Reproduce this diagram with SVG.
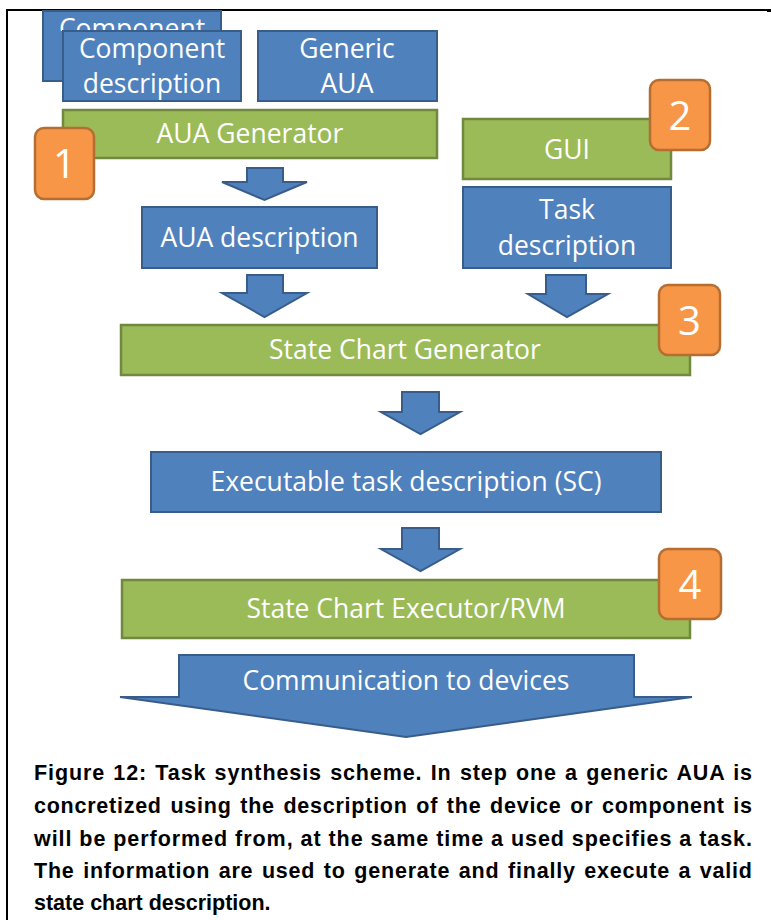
<svg xmlns="http://www.w3.org/2000/svg" width="771" height="920" viewBox="0 0 771 920">
  <style>
    .blue { fill: #4F81BD; stroke: #385D8A; stroke-width: 2; }
    .green { fill: #9BBB59; stroke: #71893F; stroke-width: 2.5; }
    .badge { fill: #F79646; stroke: #B66D31; stroke-width: 2.5; }
    .lbl { font-family: "Open Sans", "Liberation Sans", Arial, sans-serif; font-size: 26.5px; fill: #FFFFFF; text-anchor: middle; }
    .num { font-family: "Open Sans", "Liberation Sans", Arial, sans-serif; font-size: 40px; fill: #FFFFFF; text-anchor: middle; }
    .cap { font-family: "Liberation Sans", Arial, sans-serif; font-size: 21.5px; font-weight: bold; fill: #000000; }
    .frame { fill: none; stroke: #000000; stroke-width: 2; }
  </style>
  <defs>
    <!-- only the strip of the rear card above the front card is visible -->
    <clipPath id="rear-visible">
      <rect x="43" y="11" width="178" height="20"/>
    </clipPath>
  </defs>

  <!-- page frame -->
  <polyline class="frame" points="7,920 7,10 768,10"/>
  <rect x="767" y="9" width="4" height="3" fill="#000000"/>

  <!-- inputs -->
  <g id="component-back">
    <rect class="blue" x="43" y="11" width="178" height="70"/>
    <text class="lbl" x="132" y="38" clip-path="url(#rear-visible)">Component</text>
  </g>
  <g id="component-description">
    <rect class="blue" x="63" y="31" width="178" height="70"/>
    <text class="lbl" x="152" y="58">Component</text>
    <text class="lbl" x="152" y="93">description</text>
  </g>
  <g id="generic-aua">
    <rect class="blue" x="258" y="31" width="179" height="70"/>
    <text class="lbl" x="347" y="58">Generic</text>
    <text class="lbl" x="347" y="93">AUA</text>
  </g>

  <!-- step 1 -->
  <g id="aua-generator">
    <rect class="green" x="63" y="110" width="374" height="48"/>
    <text class="lbl" x="250" y="143">AUA Generator</text>
  </g>
  <g id="badge-1">
    <rect class="badge" x="35" y="128" width="59" height="71" rx="9"/>
    <text class="num" x="64.5" y="178">1</text>
  </g>

  <g id="aua-description">
    <rect class="blue" x="142" y="207" width="235" height="61"/>
    <text class="lbl" x="259.5" y="247">AUA description</text>
  </g>

  <!-- step 2 -->
  <g id="gui">
    <rect class="green" x="463" y="119" width="208" height="60"/>
    <text class="lbl" x="567" y="159">GUI</text>
  </g>
  <g id="badge-2">
    <rect class="badge" x="650" y="80" width="60" height="70" rx="9"/>
    <text class="num" x="680" y="130">2</text>
  </g>
  <g id="task-description">
    <rect class="blue" x="463" y="187" width="208" height="81"/>
    <text class="lbl" x="567" y="219">Task</text>
    <text class="lbl" x="567" y="255">description</text>
  </g>

  <!-- step 3 -->
  <g id="state-chart-generator">
    <rect class="green" x="121" y="325" width="569" height="50"/>
    <text class="lbl" x="405" y="359">State Chart Generator</text>
  </g>
  <g id="badge-3">
    <rect class="badge" x="659" y="285" width="61" height="70" rx="9"/>
    <text class="num" x="689.5" y="335">3</text>
  </g>

  <g id="executable-task-description">
    <rect class="blue" x="151" y="452" width="510" height="60"/>
    <text class="lbl" x="406" y="491">Executable task description (SC)</text>
  </g>

  <!-- step 4 -->
  <g id="state-chart-executor">
    <rect class="green" x="122" y="580" width="568" height="58"/>
    <text class="lbl" x="406" y="618">State Chart Executor/RVM</text>
  </g>
  <g id="badge-4">
    <rect class="badge" x="659" y="549" width="62" height="70" rx="9"/>
    <text class="num" x="690" y="599">4</text>
  </g>

  <g id="communication-to-devices">
    <polygon class="blue" points="179,655 634,655 634,697 692,697 406,737 120,697 179,697"/>
    <text class="lbl" x="406" y="690">Communication to devices</text>
  </g>

  <!-- flow arrows -->
  <g id="connectors">
    <polygon class="blue" points="247,168 283,168 283,182 307,182 264.5,200 222,182 247,182"/>
    <polygon class="blue" points="247,275 283,275 283,293 307,293 264.5,317 222,293 247,293"/>
    <polygon class="blue" points="546,275 586,275 586,294 608,294 567,317 528,294 546,294"/>
    <polygon class="blue" points="402,392 439,392 439,412 460,412 420.5,434 381,412 402,412"/>
    <polygon class="blue" points="402,528 439,528 439,549 460,549 420.5,571 381,549 402,549"/>
  </g>

  <!-- caption, justified lines -->
  <g id="caption">
    <text class="cap" x="34" y="780" word-spacing="1.4" textLength="718" lengthAdjust="spacing">Figure 12: Task synthesis scheme. In step one a generic AUA is</text>
    <text class="cap" x="34" y="813" word-spacing="2" textLength="718" lengthAdjust="spacing">concretized using the description of the device or component is</text>
    <text class="cap" x="34" y="846" textLength="718" lengthAdjust="spacing">will be performed from, at the same time a used specifies a task.</text>
    <text class="cap" x="34" y="878" word-spacing="1.8" textLength="718" lengthAdjust="spacing">The information are used to generate and finally execute a valid</text>
    <text class="cap" x="34" y="910">state chart description.</text>
  </g>
</svg>
